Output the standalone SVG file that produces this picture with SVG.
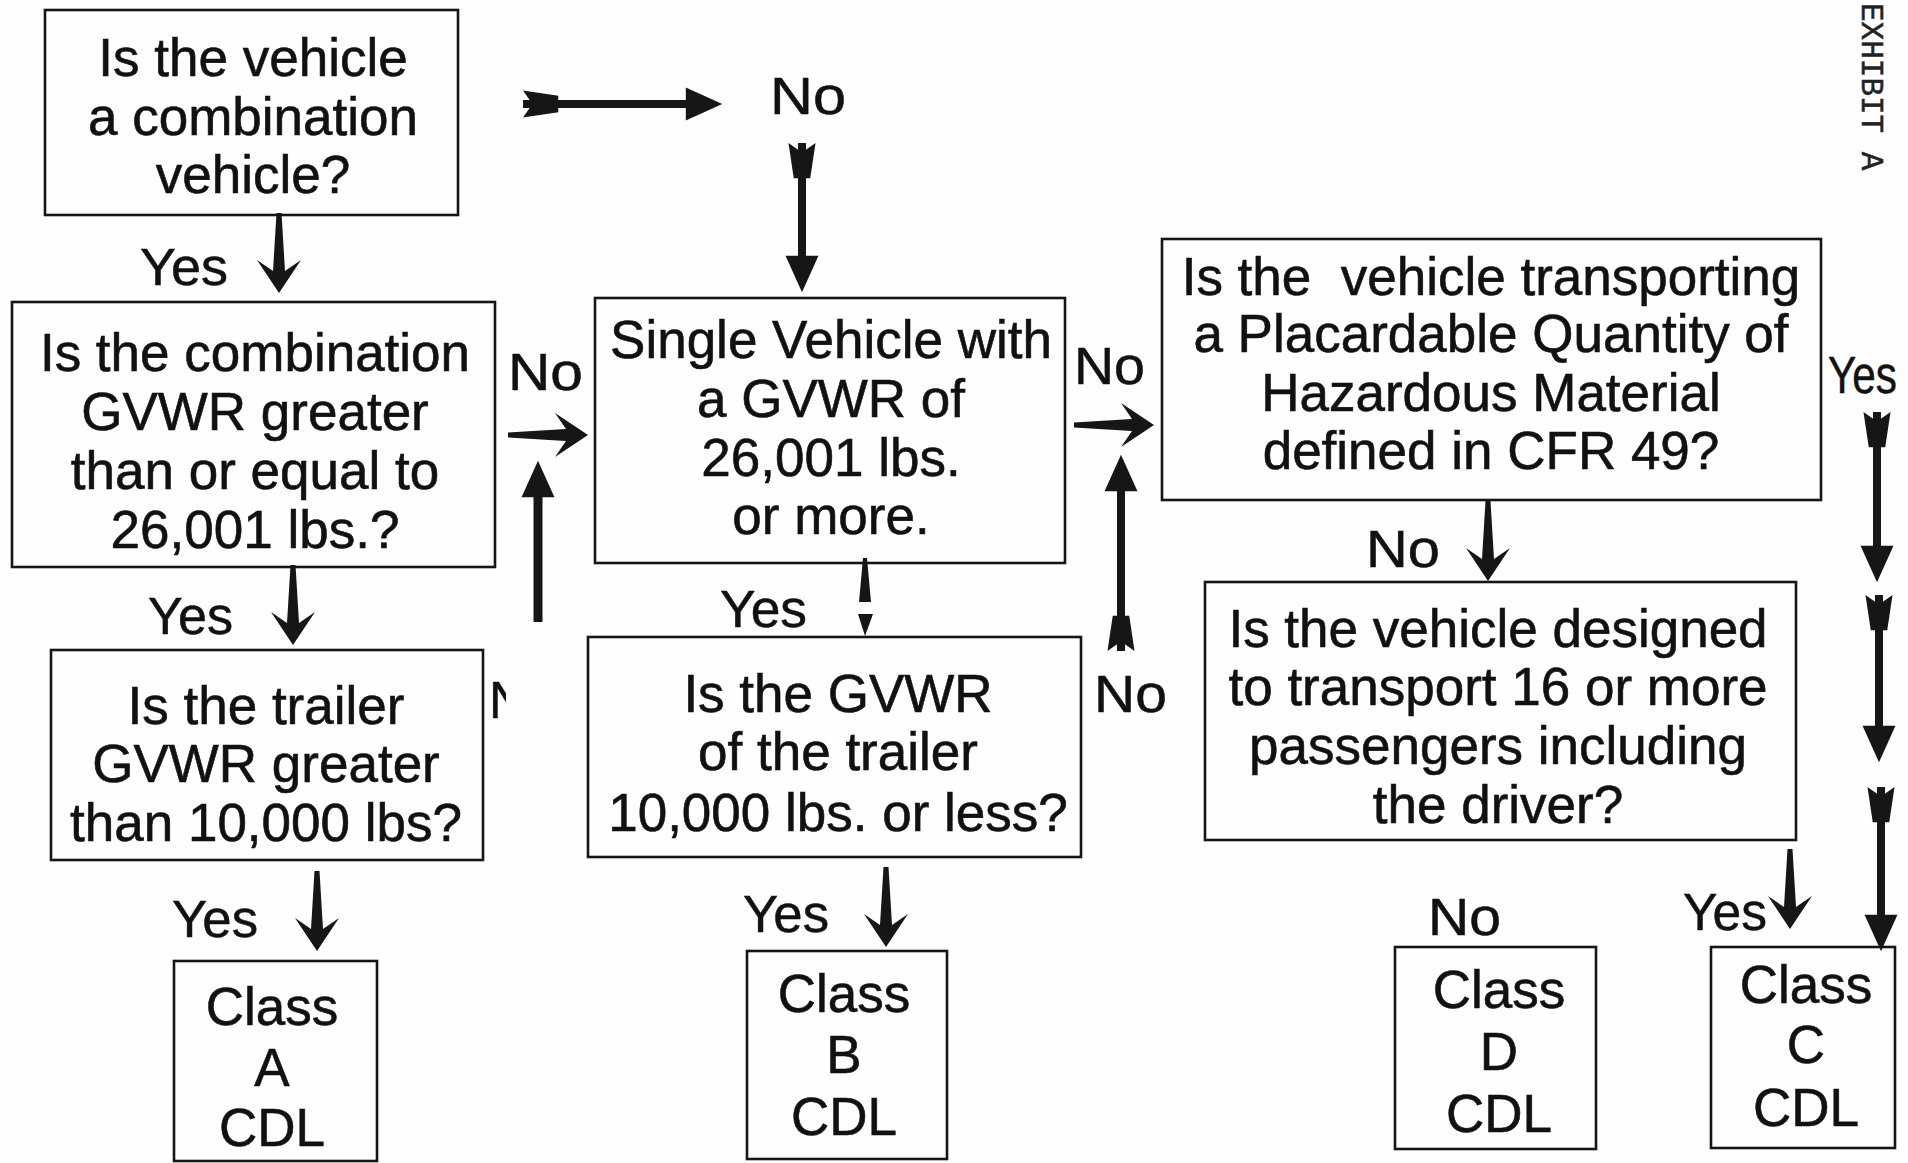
<svg xmlns="http://www.w3.org/2000/svg" xmlns:xlink="http://www.w3.org/1999/xlink" width="1908" height="1163" viewBox="0 0 1908 1163">
<style>
  .box { fill: none; stroke: #151515; stroke-width: 2.6; }
  .t { font-family: "Liberation Sans", Arial, Helvetica, sans-serif; fill: #111; stroke: #111; stroke-width: 0.6; text-anchor: middle; font-size: 53px; }
  .lbl { font-family: "Liberation Sans", Arial, Helvetica, sans-serif; fill: #111; stroke: #111; stroke-width: 0.5; font-size: 51px; }
  .fl { fill: none; stroke: #161616; stroke-width: 8; marker-start: url(#fletch); marker-end: url(#tri); }
  .up { fill: none; stroke: #161616; stroke-width: 9; marker-end: url(#tri); }
  .ah { fill: #161616; }
  .exh { font-family: "Liberation Mono", "Courier New", monospace; font-size: 31px; fill: #222; stroke: #222; stroke-width: 0.5; }
</style>
<defs>
  <marker id="tri" markerUnits="userSpaceOnUse" orient="auto" markerWidth="40" markerHeight="40" refX="0" refY="0" viewBox="-2 -16 34 32" overflow="visible">
    <path d="M-1,-14 L30,0 L-1,14 Z" fill="#161616"/>
  </marker>
  <marker id="fletch" markerUnits="userSpaceOnUse" orient="auto" markerWidth="40" markerHeight="40" refX="0" refY="0" viewBox="-2 -13 34 26" overflow="visible">
    <path d="M0,-11.5 L30,-7 L30,7 L0,11.5 L8,0 Z" fill="#161616"/>
  </marker>
  <path id="barb" d="M-2.5,0 L2.5,0 L6,58 L22,47 L0,80 L-22,47 L-6,58 Z"/>
  <clipPath id="nclip"><rect x="480" y="660" width="26" height="70"/></clipPath>
</defs>
<rect x="0" y="0" width="1908" height="1163" fill="#fefefe"/>

<g id="node-combination">
  <rect class="box" x="45" y="10" width="413" height="205"/>
  <text class="t" font-size="54" x="253" y="76">Is the vehicle</text>
  <text class="t" font-size="54" x="253" y="135">a combination</text>
  <text class="t" font-size="54" x="253" y="193">vehicle?</text>
</g>
<g id="node-combo-gvwr">
  <rect class="box" x="12" y="302" width="483" height="265"/>
  <text class="t" x="255" y="371">Is the combination</text>
  <text class="t" x="255" y="430">GVWR greater</text>
  <text class="t" x="255" y="489">than or equal to</text>
  <text class="t" x="255" y="548">26,001 lbs.?</text>
</g>
<g id="node-trailer-gvwr">
  <rect class="box" x="51" y="650" width="432" height="210"/>
  <text class="t" x="266" y="724">Is the trailer</text>
  <text class="t" x="266" y="782">GVWR greater</text>
  <text class="t" x="266" y="841">than 10,000 lbs?</text>
</g>
<g id="node-single">
  <rect class="box" x="595" y="298" width="470" height="265"/>
  <text class="t" font-size="52" x="831" y="358">Single Vehicle with</text>
  <text class="t" font-size="52" x="831" y="417">a GVWR of</text>
  <text class="t" font-size="52" x="831" y="476">26,001 lbs.</text>
  <text class="t" font-size="52" x="831" y="534">or more.</text>
</g>
<g id="node-trailer-less">
  <rect class="box" x="588" y="637" width="493" height="220"/>
  <text class="t" font-size="52" x="838" y="712">Is the GVWR</text>
  <text class="t" font-size="52" x="838" y="770">of the trailer</text>
  <text class="t" font-size="52" x="838" y="831">10,000 lbs. or less?</text>
</g>
<g id="node-hazmat">
  <rect class="box" x="1162" y="239" width="659" height="261"/>
  <text class="t" x="1491" y="295" xml:space="preserve">Is the  vehicle transporting</text>
  <text class="t" x="1491" y="352">a Placardable Quantity of</text>
  <text class="t" x="1491" y="411">Hazardous Material</text>
  <text class="t" x="1491" y="469">defined in CFR 49?</text>
</g>
<g id="node-passengers">
  <rect class="box" x="1205" y="582" width="591" height="258"/>
  <text class="t" x="1498" y="647">Is the vehicle designed</text>
  <text class="t" x="1498" y="705">to transport 16 or more</text>
  <text class="t" x="1498" y="764">passengers including</text>
  <text class="t" x="1498" y="823">the driver?</text>
</g>
<g id="node-class-a">
  <rect class="box" x="174" y="961" width="203" height="200"/>
  <text class="t" font-size="52" x="272" y="1025">Class</text>
  <text class="t" font-size="52" x="272" y="1086">A</text>
  <text class="t" font-size="52" x="272" y="1146">CDL</text>
</g>
<g id="node-class-b">
  <rect class="box" x="747" y="951" width="200" height="208"/>
  <text class="t" font-size="52" x="844" y="1012">Class</text>
  <text class="t" font-size="52" x="844" y="1073">B</text>
  <text class="t" font-size="52" x="844" y="1135">CDL</text>
</g>
<g id="node-class-d">
  <rect class="box" x="1395" y="947" width="201" height="202"/>
  <text class="t" font-size="52" x="1499" y="1008">Class</text>
  <text class="t" font-size="52" x="1499" y="1070">D</text>
  <text class="t" font-size="52" x="1499" y="1132">CDL</text>
</g>
<g id="node-class-c">
  <rect class="box" x="1711" y="947" width="184" height="201"/>
  <text class="t" font-size="52" x="1806" y="1003">Class</text>
  <text class="t" font-size="52" x="1806" y="1063">C</text>
  <text class="t" font-size="52" x="1806" y="1126">CDL</text>
</g>

<g id="connectors">
  <!-- fletched arrows -->
  <path class="fl" d="M523,104 L687,104"/>
  <path class="fl" d="M802,143 L802,257"/>
  <path class="fl" d="M1121,651 L1121,490"/>
  <path class="fl" d="M1877,412 L1877,547"/>
  <path class="fl" d="M1879,595 L1879,727"/>
  <path class="fl" d="M1881,787 L1881,916"/>
  <!-- plain up arrow -->
  <path class="up" d="M538,622 L538,496"/>
  <!-- barbed arrows -->
  <use class="ah" xlink:href="#barb" href="#barb" transform="translate(279,213)"/>
  <use class="ah" xlink:href="#barb" href="#barb" transform="translate(293,565)"/>
  <use class="ah" xlink:href="#barb" href="#barb" transform="translate(317,871)"/>
  <use class="ah" xlink:href="#barb" href="#barb" transform="translate(886,867)"/>
  <use class="ah" xlink:href="#barb" href="#barb" transform="translate(1488,501)"/>
  <use class="ah" xlink:href="#barb" href="#barb" transform="translate(1790,849)"/>
  <use class="ah" xlink:href="#barb" href="#barb" transform="translate(508,435) rotate(-90)"/>
  <use class="ah" xlink:href="#barb" href="#barb" transform="translate(1074,425) rotate(-90)"/>
  <!-- broken arrow Single -> trailer -->
  <path class="ah" d="M863,558 L867,558 L871,602 L859,602 Z"/>
  <path class="ah" d="M858,614 L873,614 L865,636 Z"/>

  <!-- labels -->
  <text class="lbl" x="770" y="114" textLength="76" lengthAdjust="spacingAndGlyphs">No</text>
  <text class="lbl" x="508" y="390" textLength="75" lengthAdjust="spacingAndGlyphs">No</text>
  <text class="lbl" x="1074" y="384" textLength="71" lengthAdjust="spacingAndGlyphs">No</text>
  <text class="lbl" x="1094" y="712" textLength="73" lengthAdjust="spacingAndGlyphs">No</text>
  <text class="lbl" x="1366" y="567" textLength="74" lengthAdjust="spacingAndGlyphs">No</text>
  <text class="lbl" x="1428" y="935" textLength="73" lengthAdjust="spacingAndGlyphs">No</text>
  <text class="lbl" x="489" y="718" clip-path="url(#nclip)">N</text>

  <text class="lbl" x="140" y="285" textLength="88" lengthAdjust="spacingAndGlyphs">Yes</text>
  <text class="lbl" x="148" y="634" textLength="85" lengthAdjust="spacingAndGlyphs">Yes</text>
  <text class="lbl" x="172" y="937" textLength="86" lengthAdjust="spacingAndGlyphs">Yes</text>
  <text class="lbl" x="720" y="627" textLength="87" lengthAdjust="spacingAndGlyphs">Yes</text>
  <text class="lbl" x="743" y="932" textLength="86" lengthAdjust="spacingAndGlyphs">Yes</text>
  <text class="lbl" x="1828" y="393" textLength="69" lengthAdjust="spacingAndGlyphs">Yes</text>
  <text class="lbl" x="1683" y="930" textLength="84" lengthAdjust="spacingAndGlyphs">Yes</text>
</g>

<text class="exh" transform="translate(1862,3) rotate(90)">EXHIBIT A</text>
</svg>
